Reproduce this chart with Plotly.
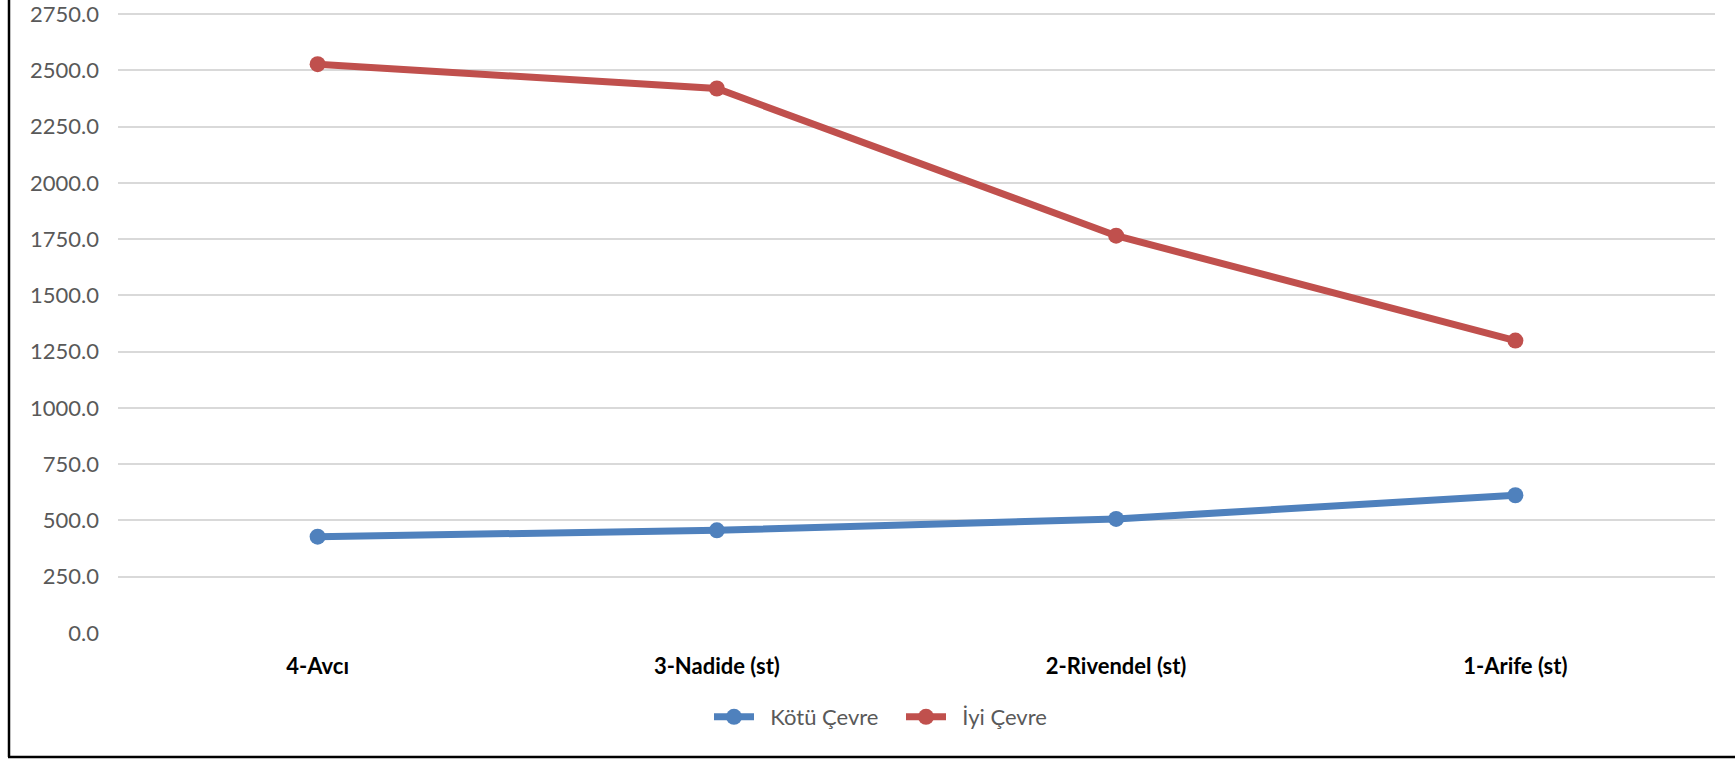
import plotly.graph_objects as go

categories = ["4-Avcı", "3-Nadide (st)", "2-Rivendel (st)", "1-Arife (st)"]
kotu_cevre = [428, 456, 507, 612]
iyi_cevre = [2527, 2419, 1765, 1299]
y_ticks = [0, 250, 500, 750, 1000, 1250, 1500, 1750, 2000, 2250, 2500, 2750]

W, H = 1735, 759
Y_TOP = 2750 + 4 * 2750 / 619  # 4px headroom above the 2750 gridline
L, R, T, B = 118, 20, 10, 126
pw, ph = W - L - R, H - T - B

def px(x):
    return (x - L) / pw

def py(y):
    return (H - B - y) / ph

FONT = "Lato"
NB = "\u00a0\u00a0"

fig = go.Figure()
fig.add_trace(go.Scatter(
    x=categories, y=kotu_cevre, name=NB + "Kötü Çevre", mode="lines+markers",
    line=dict(color="#4F81BD", width=7), marker=dict(size=16, color="#4F81BD")))
fig.add_trace(go.Scatter(
    x=categories, y=iyi_cevre, name=NB + "İyi Çevre", mode="lines+markers",
    line=dict(color="#C0504D", width=7), marker=dict(size=16, color="#C0504D")))

fig.update_layout(
    width=W, height=H,
    margin=dict(l=L, r=R, t=T, b=B, autoexpand=False),
    paper_bgcolor="white", plot_bgcolor="white",
    font=dict(family=FONT, size=22, color="#595959"),
    showlegend=True,
    legend=dict(orientation="h", x=px(709), xanchor="left", y=py(717), yanchor="middle",
                font=dict(family=FONT, size=22, color="#595959"), itemwidth=40,
                entrywidth=137, entrywidthmode="pixels",
                bgcolor="rgba(0,0,0,0)"),
    xaxis=dict(type="category", range=[-0.5, 3.5], showgrid=False, zeroline=False,
               showline=False, ticks="", ticklabelstandoff=18, automargin=False,
               tickfont=dict(family=FONT, size=22, color="#000000", weight="bold")),
    yaxis=dict(range=[0, Y_TOP], tickvals=y_ticks, ticktext=[f"{v:.1f}" for v in y_ticks],
               showgrid=True, gridcolor="#D9D9D9", gridwidth=2, zeroline=False,
               showline=False, ticks="", ticklabelstandoff=18, ticklabeloverflow="allow",
               automargin=False,
               tickfont=dict(family=FONT, size=22, color="#595959")),
    shapes=[
        dict(type="line", xref="paper", yref="paper", x0=px(9), x1=px(9), y0=py(0), y1=py(757),
             line=dict(color="#000000", width=2.5)),
        dict(type="line", xref="paper", yref="paper", x0=px(8), x1=px(1735), y0=py(757), y1=py(757),
             line=dict(color="#000000", width=2.5)),
    ],
)

fig.write_html("out.html", config={"displayModeBar": False},
               post_script="document.body.style.margin='0';document.body.style.overflow='hidden';")
